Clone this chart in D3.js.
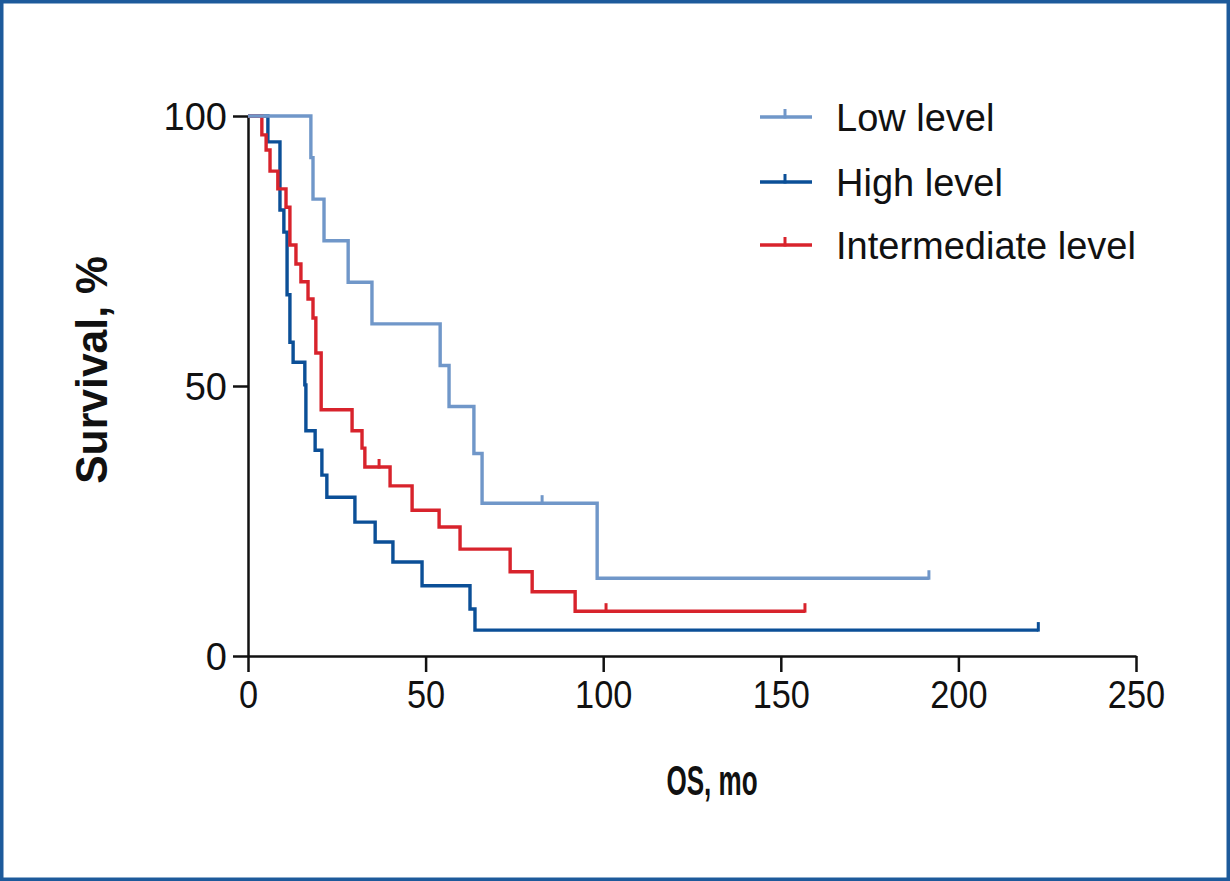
<!DOCTYPE html>
<html>
<head>
<meta charset="utf-8">
<script src="https://cdn.jsdelivr.net/npm/d3@7/dist/d3.min.js"></script>
<style>
html,body{margin:0;padding:0;background:#fff;}
svg{display:block;}
</style>
</head>
<body>
<svg id="chart" width="1230" height="881"></svg>
<script>
// ---- data ----
const xTicks = [0, 50, 100, 150, 200, 250];
const yTicks = [0, 50, 100];
const seriesNames = ["Low level", "High level", "Intermediate level"];

const lowTimes = [0, 17.7, 18.3, 21.4, 28.2, 34.9, 54.1, 56.6, 63.6, 65.9, 98.3];
const lowSurv  = [100, 92.3, 84.6, 76.9, 69.2, 61.5, 53.8, 46.2, 37.5, 28.3, 14.4];
const lowCensor = [82.8, 191.7];
const lowEnd = 191.7;

const highTimes = [0, 5.6, 9.0, 10.1, 11.0, 11.8, 12.7, 16.0, 16.3, 18.9, 20.8, 22.2, 30.1, 35.8, 40.8, 49.0, 62.5, 63.9];
const highSurv  = [100, 95.2, 82.6, 78.5, 66.9, 58.1, 54.4, 50.2, 41.7, 38.1, 33.5, 29.4, 24.8, 21.1, 17.4, 13.0, 8.7, 4.8];
const highCensor = [222.5];
const highEnd = 222.5;

const interTimes = [0, 3.9, 5.1, 6.2, 8.4, 10.7, 11.8, 13.5, 14.9, 16.9, 18.3, 19.1, 20.6, 29.3, 32.1, 32.9, 40.0, 46.2, 53.8, 59.7, 73.8, 80.0, 92.1];
const interSurv  = [100, 96.5, 93.7, 89.8, 86.5, 83.1, 76.1, 72.6, 69.3, 66.1, 62.6, 56.1, 45.6, 41.7, 38.5, 35.0, 31.5, 27.0, 23.9, 19.8, 15.6, 11.9, 8.3];
const interCensor = [36.9, 100.8, 156.8];
const interEnd = 156.8;

const colors = ["#7097c9", "#0b4f97", "#d8232c"];

// ---- drawing ----
const svg = d3.select("#chart");
svg.append("rect").attr("x", 1.75).attr("y", 1.75).attr("width", 1226.5).attr("height", 877.5)
  .attr("fill", "#fff").attr("stroke", "#1d5a9b").attr("stroke-width", 3.5);

const x = d3.scaleLinear().domain([0, 250]).range([248, 1136]);
const y = d3.scaleLinear().domain([0, 100]).range([656, 116]);

const series = [
  {name: seriesNames[0], t: lowTimes, s: lowSurv, c: lowCensor, end: lowEnd, color: colors[0]},
  {name: seriesNames[1], t: highTimes, s: highSurv, c: highCensor, end: highEnd, color: colors[1]},
  {name: seriesNames[2], t: interTimes, s: interSurv, c: interCensor, end: interEnd, color: colors[2]}
];

function condense(sel, f) {
  sel.each(function() {
    const w = this.getComputedTextLength();
    d3.select(this).attr("textLength", w * f).attr("lengthAdjust", "spacingAndGlyphs");
  });
}

// axes
const xAxis = svg.append("g").attr("transform", "translate(0,656)")
  .call(d3.axisBottom(x).tickValues(xTicks).tickSize(16).tickSizeOuter(0).tickPadding(8));
const yAxis = svg.append("g").attr("transform", "translate(248,0)")
  .call(d3.axisLeft(y).tickValues(yTicks).tickSize(15).tickSizeOuter(0).tickPadding(6));
[xAxis, yAxis].forEach(g => {
  g.selectAll("path.domain").attr("stroke", "#111").attr("stroke-width", 2.5);
  g.selectAll(".tick line").attr("stroke", "#111").attr("stroke-width", 2.5);
});
xAxis.selectAll(".tick text").attr("font-family", "'Liberation Sans',Arial,sans-serif")
  .attr("font-size", 39).attr("fill", "#111").attr("dy", "0.72em");
condense(xAxis.selectAll(".tick text"), 0.88);
yAxis.selectAll(".tick text").attr("font-family", "'Liberation Sans',Arial,sans-serif")
  .attr("font-size", 38).attr("fill", "#111").attr("dy", "0.36em");

// curves
const line = d3.line().x(d => x(d[0])).y(d => y(d[1])).curve(d3.curveStepAfter);
function survAt(sr, t) {
  let v = sr.s[0];
  for (let i = 0; i < sr.t.length; i++) if (sr.t[i] <= t) v = sr.s[i];
  return v;
}
const drawOrder = [1, 2, 0];
drawOrder.forEach(i => {
  const sr = series[i];
  const pts = sr.t.map((t, k) => [t, sr.s[k]]);
  pts.push([sr.end, sr.s[sr.s.length - 1]]);
  const g = svg.append("g");
  g.append("path").attr("d", line(pts)).attr("fill", "none")
    .attr("stroke", sr.color).attr("stroke-width", 3.4).attr("stroke-linejoin", "miter");
  g.selectAll("line.cens").data(sr.c).enter().append("line")
    .attr("x1", d => x(d)).attr("x2", d => x(d))
    .attr("y1", d => y(survAt(sr, d)) + 1.5).attr("y2", d => y(survAt(sr, d)) - 8)
    .attr("stroke", sr.color).attr("stroke-width", 3);
});

// legend
const legY = [117, 182, 245];
series.forEach((sr, i) => {
  const g = svg.append("g");
  g.append("line").attr("x1", 760).attr("x2", 812).attr("y1", legY[i]).attr("y2", legY[i])
    .attr("stroke", sr.color).attr("stroke-width", 3.4);
  g.append("line").attr("x1", 785).attr("x2", 785).attr("y1", legY[i] + 1.5).attr("y2", legY[i] - 8)
    .attr("stroke", sr.color).attr("stroke-width", 3);
  g.append("text").attr("x", 836).attr("y", legY[i] + 14)
    .attr("font-family", "'Liberation Sans',Arial,sans-serif").attr("font-size", 38)
    .attr("fill", "#111").text(sr.name);
});

// axis titles
const yt = svg.append("text").attr("transform", "translate(107,370) rotate(-90)")
  .attr("text-anchor", "middle").attr("font-family", "'Liberation Sans',Arial,sans-serif")
  .attr("font-weight", "bold").attr("font-size", 44).attr("fill", "#111").text("Survival, %");
condense(yt, 0.97);
const xt = svg.append("text").attr("x", 712).attr("y", 795)
  .attr("text-anchor", "middle").attr("font-family", "'Liberation Sans',Arial,sans-serif")
  .attr("font-weight", "bold").attr("font-size", 42).attr("fill", "#111").text("OS, mo");
condense(xt, 0.62);
</script>
</body>
</html>
